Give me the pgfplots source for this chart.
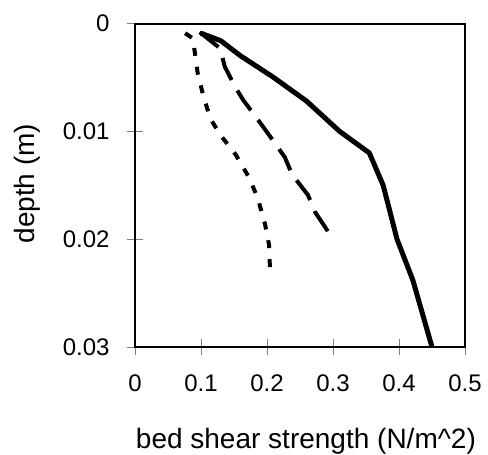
\documentclass[border=0pt]{standalone}
\usepackage{fontspec}
\setmainfont{Liberation Sans}
\usepackage{pgfplots}
\pgfplotsset{compat=1.18}
\begin{document}
\begin{tikzpicture}
\begin{axis}[
  at={(0,0)}, anchor=south west,
  scale only axis, width=330pt, height=323.5pt,
  xmin=0, xmax=0.5, ymin=0, ymax=0.03,
  y dir=reverse,
  scaled y ticks=false, scaled x ticks=false,
  axis line style={line width=2pt},
  xtick={0,0.1,0.2,0.3,0.4,0.5},
  xticklabels={0,0.1,0.2,0.3,0.4,0.5},
  ytick={0,0.01,0.02,0.03},
  yticklabels={0,0.01,0.02,0.03},
  tick align=center, major tick length=16pt,
  tick style={gray, line width=0.8pt},
  xtick pos=bottom, ytick pos=left,
  ticklabel style={font=\fontsize{24}{28}\selectfont},
  xticklabel style={yshift=-16pt},
  yticklabel style={xshift=-14pt},
  label style={font=\fontsize{28}{32}\selectfont},
  xlabel={bed shear strength (N/m\^{}2)},
  ylabel={depth (m)},
  xlabel style={at={(axis description cs:0.518,-0.3339)}, anchor=south, inner sep=1pt},
  ylabel style={at={(axis description cs:-0.327,0.505)}, anchor=center, rotate=0},
  clip=false,
]
\addplot[black, line width=5pt, line join=round] coordinates {
 (0.100,0.0009) (0.130,0.0016) (0.160,0.003) (0.210,0.005) (0.260,0.0072) (0.310,0.0100)
 (0.355,0.0120) (0.376,0.0150) (0.397,0.0200) (0.421,0.0238) (0.450,0.0300)};
\addplot[black, line width=4pt, dash pattern=on 24pt off 12pt] coordinates {
 (0.098,0.0008) (0.129,0.0023) (0.136,0.004) (0.152,0.0059) (0.164,0.0071) (0.192,0.0094)
 (0.205,0.0105) (0.227,0.0124) (0.238,0.0140) (0.262,0.0159) (0.273,0.0175) (0.298,0.0198)};
\addplot[black, line width=4pt, dash pattern=on 8pt off 11pt] coordinates {
 (0.076,0.0009) (0.088,0.0014) (0.090,0.0024) (0.095,0.0046) (0.103,0.0066) (0.114,0.0088)
 (0.129,0.0103) (0.153,0.0122) (0.173,0.0143) (0.186,0.0162) (0.197,0.0186) (0.203,0.0205) (0.205,0.0234)};
\end{axis}
\pgfresetboundingbox
\path (-135pt,-108pt) rectangle (353pt,347pt);
\end{tikzpicture}
\end{document}
